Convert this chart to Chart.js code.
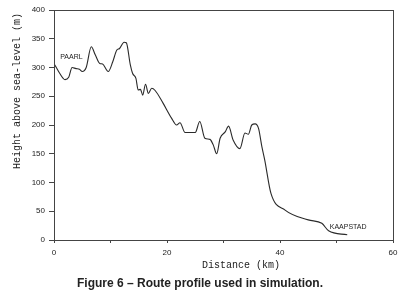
<!DOCTYPE html>
<html lang="en">
<head>
    <meta charset="UTF-8">
    <title>Route profile</title>
    <script src="https://cdn.jsdelivr.net/npm/chart.js"></script>
    <style>
        body {
            margin: 0;
            padding: 0;
            background-color: #ffffff;
        }
        .chart-container {
            position: relative;
            width: 406px;
            height: 295px;
        }
    </style>
</head>
<body>
    <div class="chart-container">
        <canvas id="profileChart"></canvas>
    </div>

    <script>
        // distance along the route (km) and height (m)
        const distanceKm = [0, 1, 1.95, 2.6, 3.2, 3.9, 4.5, 5, 5.7, 6.6, 7.3, 8.1, 8.6, 9.6, 10.4, 11.1, 11.6, 12.4, 12.8, 13.5, 13.9, 14.5, 14.9, 15.3, 15.7, 16.2, 16.7, 17.3, 17.9, 19.3, 20.8, 21.7, 22.3, 23.2, 25, 25.8, 26.7, 27.6, 28.2, 28.8, 29.4, 30.3, 30.9, 31.7, 32.9, 33.8, 34.4, 35, 35.6, 36.2, 36.8, 37.3, 38.4, 40.9, 45, 47.4, 48.6, 51.9];
        const heightM = [307, 290, 279, 283, 300, 298, 297, 293, 300, 336, 322, 307, 306, 293, 310, 330, 333, 344, 343, 305, 290, 281, 261, 262, 252, 271, 255, 264, 260, 238, 212, 200, 204, 187, 187, 206, 177, 175, 165, 150, 177, 188, 198, 174, 159, 186, 184, 200, 202, 194, 162, 139, 81, 52, 35, 29, 16, 9];

        // place names on the profile
        const placeNames = ['PAARL', 'KAAPSTAD'];
        const placeDist = [1.1, 48.8];
        const placeHeight = [318, 23];

        const yTitle = 'Height above sea-level (m)';
        const xTitle = 'Distance (km)';
        const caption = 'Figure 6 \u2013 Route profile used in simulation.';

        const points = distanceKm.map((d, i) => ({ x: d, y: heightM[i] }));

        // frame, place names, axis titles and caption
        const decorPlugin = {
            id: 'decor',
            afterDraw(chart) {
                const { ctx, chartArea: a, scales } = chart;
                ctx.save();
                ctx.strokeStyle = '#444';
                ctx.lineWidth = 1;
                ctx.strokeRect(a.left + 0.5, a.top + 0.5, a.right - a.left, a.bottom - a.top);

                ctx.fillStyle = '#222';
                ctx.font = '7px "Liberation Sans", Arial, sans-serif';
                ctx.textBaseline = 'middle';
                ctx.textAlign = 'left';
                placeNames.forEach((name, i) => {
                    ctx.fillText(name, scales.x.getPixelForValue(placeDist[i]), scales.y.getPixelForValue(placeHeight[i]));
                });

                ctx.font = '10px "Liberation Mono", "Courier New", monospace';
                ctx.textAlign = 'center';
                ctx.fillText(xTitle, 241, 265);

                ctx.save();
                ctx.translate(17, 91);
                ctx.rotate(-Math.PI / 2);
                ctx.fillText(yTitle, 0, 0);
                ctx.restore();

                ctx.font = 'bold 12px "Liberation Sans", Arial, sans-serif';
                ctx.fillText(caption, 200, 284);
                ctx.restore();
            }
        };

        const ctx = document.getElementById('profileChart').getContext('2d');
        const profileChart = new Chart(ctx, {
            type: 'line',
            data: {
                datasets: [{
                    data: points,
                    borderColor: '#2a2a2a',
                    borderWidth: 1.1,
                    pointRadius: 0,
                    cubicInterpolationMode: 'monotone',
                    fill: false
                }]
            },
            options: {
                responsive: true,
                maintainAspectRatio: false,
                animation: false,
                layout: {
                    padding: { top: 10, right: 13, bottom: 0, left: 0 }
                },
                plugins: {
                    legend: { display: false },
                    tooltip: { enabled: false }
                },
                scales: {
                    x: {
                        type: 'linear',
                        min: 0,
                        max: 60,
                        afterFit(scale) { scale.height = 55; },
                        grid: {
                            drawOnChartArea: false,
                            drawTicks: true,
                            tickLength: 3,
                            color: '#444'
                        },
                        border: { color: '#444' },
                        ticks: {
                            stepSize: 10,
                            padding: 5,
                            color: '#222',
                            maxRotation: 0,
                            font: { size: 8, family: '"Liberation Sans", Arial, sans-serif' },
                            callback: v => (v % 20 === 0 ? v : '')
                        }
                    },
                    y: {
                        min: 0,
                        max: 400,
                        afterFit(scale) { scale.width = 54; },
                        grid: {
                            drawOnChartArea: false,
                            drawTicks: true,
                            tickLength: 5,
                            color: '#444'
                        },
                        border: { color: '#444' },
                        ticks: {
                            stepSize: 50,
                            padding: 4,
                            color: '#222',
                            font: { size: 8, family: '"Liberation Sans", Arial, sans-serif' }
                        }
                    }
                }
            },
            plugins: [decorPlugin]
        });
    </script>
</body>
</html>
